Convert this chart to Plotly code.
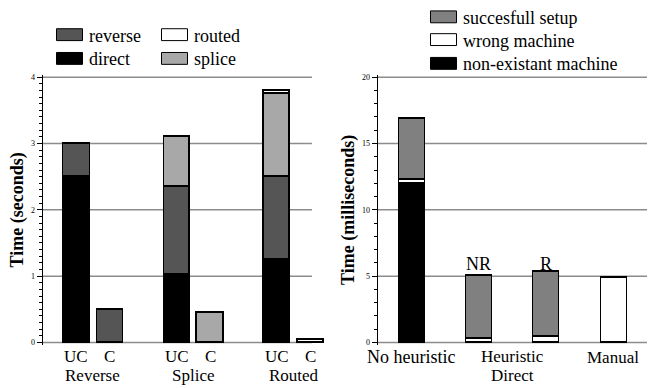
import plotly.graph_objects as go

# ---------------- data ----------------
left_cats = ["Reverse UC", "Reverse C", "Splice UC", "Splice C", "Routed UC", "Routed C"]
left_tick = ["UC", "C", "UC", "C", "UC", "C"]
left_groups = ["Reverse", "Splice", "Routed"]
direct = [2.5, 0, 1.02, 0, 1.25, 0]
reverse = [0.5, 0.5, 1.33, 0, 1.25, 0]
splice = [0, 0, 0.75, 0.45, 1.25, 0]
routed = [0, 0, 0, 0, 0.05, 0.04]

right_cats = ["No heuristic", "NR", "R", "Manual"]
nonexist = [12.0, 0, 0, 0]
wrong = [0.25, 0.3, 0.45, 4.9]
success = [4.65, 4.75, 4.9, 0]

left_ticks = [0, 1, 2, 3, 4]
right_ticks = [0, 5, 10, 15, 20]

# ---------------- layout helpers ----------------
W, H = 656, 388
FONT = "'Liberation Serif', 'Times New Roman', Times, serif"
slots = ["Reverse UC", "Reverse C", "g1", "Splice UC", "Splice C", "g2", "Routed UC", "Routed C"]

def px_x(p):
    return p / W

def px_y(p):
    return (H - p) / H

fig = go.Figure()

lstyle = [("direct", direct, "#000000"), ("reverse", reverse, "#555555"),
          ("splice", splice, "#a8a8a8"), ("routed", routed, "#ffffff")]
for name, vals, col in lstyle:
    fig.add_trace(go.Bar(x=left_cats, y=vals, name=name, marker_color=col,
                         marker_line_color="#000000", marker_line_width=1.2,
                         width=0.78, xaxis="x", yaxis="y", showlegend=False))

rstyle = [("non-existant machine", nonexist, "#000000"), ("wrong machine", wrong, "#ffffff"),
          ("succesfull setup", success, "#808080")]
for name, vals, col in rstyle:
    fig.add_trace(go.Bar(x=right_cats, y=vals, name=name, marker_color=col,
                         marker_line_color="#000000", marker_line_width=1.2,
                         width=0.385, xaxis="x2", yaxis="y2", showlegend=False))

ydom = [px_y(346.7), px_y(73.3)]
axis_common = dict(showline=True, linecolor="black", linewidth=1.2, ticks="outside",
                   ticklen=5, tickcolor="black", tickwidth=1, showgrid=False, zeroline=False,
                   tickfont=dict(family=FONT, size=8, color="black"))

fig.update_layout(
    width=W, height=H, margin=dict(l=0, r=0, t=0, b=0),
    paper_bgcolor="white", plot_bgcolor="white", barmode="stack", bargap=0,
    showlegend=False, hovermode=False,
    xaxis=dict(domain=[px_x(42.7), px_x(325)], type="category", categoryorder="array",
               categoryarray=slots, range=[-1.0, 7.43], showticklabels=False,
               showline=False, showgrid=False, zeroline=False, ticks=""),
    yaxis=dict(domain=ydom, range=[-0.04, 4.04], tickvals=left_ticks, anchor="x",
               minor=dict(dtick=0.1, ticks="outside", ticklen=3, tickcolor="black"),
               title=dict(text="<b>Time (seconds)</b>", font=dict(family=FONT, size=18, color="black"),
                          standoff=2),
               **axis_common),
    xaxis2=dict(domain=[px_x(377.7), px_x(647)], type="category", categoryorder="array",
                categoryarray=right_cats, range=[-0.5, 3.5], showticklabels=False,
                showline=False, showgrid=False, zeroline=False, ticks="", anchor="y2"),
    yaxis2=dict(domain=ydom, range=[-0.2, 20.2], tickvals=right_ticks, anchor="x2",
                minor=dict(dtick=1, ticks="outside", ticklen=3, tickcolor="black"),
                title=dict(text="<b>Time (milliseconds)</b>", font=dict(family=FONT, size=18, color="black"),
                           standoff=2),
                **axis_common),
)

# grid lines (drawn below bars)
for t in left_ticks:
    fig.add_shape(type="line", xref="x", yref="y", x0=-1.0, x1=7.04, y0=t, y1=t,
                  line=dict(color="#8c8c8c", width=1.5), layer="below")
for t in right_ticks:
    fig.add_shape(type="line", xref="x2", yref="y2", x0=-0.5, x1=3.5, y0=t, y1=t,
                  line=dict(color="#8c8c8c", width=1.5), layer="below")

LBL = dict(family=FONT, size=17, color="black")

# left category labels
for c, t in zip(left_cats, left_tick):
    fig.add_annotation(x=c, xref="x", y=px_y(358), yref="paper", text=t, showarrow=False,
                       font=LBL, yanchor="middle", borderpad=0)
for i, g in enumerate(left_groups):
    fig.add_annotation(x=3 * i + 0.5, xref="x", y=0, yref="paper", text=g, showarrow=False,
                       font=LBL, yanchor="bottom", borderpad=0)

# right labels
fig.add_annotation(x=0, xref="x2", y=px_y(359), yref="paper", text="No heuristic", showarrow=False,
                   font=dict(family=FONT, size=18, color="black"), yanchor="middle", borderpad=0)
fig.add_annotation(x=1.5, xref="x2", y=px_y(358), yref="paper", text="Heuristic", showarrow=False,
                   font=LBL, yanchor="middle", borderpad=0)
fig.add_annotation(x=1.5, xref="x2", y=0, yref="paper", text="Direct", showarrow=False,
                   font=LBL, yanchor="bottom", borderpad=0)
fig.add_annotation(x=3, xref="x2", y=px_y(359), yref="paper", text="Manual", showarrow=False,
                   font=LBL, yanchor="middle", borderpad=0)
for c in ["NR", "R"]:
    fig.add_annotation(x=c, xref="x2", y=px_y(265), yref="paper", text=c, showarrow=False,
                       font=dict(family=FONT, size=18, color="black"), yanchor="middle")

# legends (manual)
def legend_item(x0, ycen, color, label):
    fig.add_shape(type="rect", xref="paper", yref="paper", x0=px_x(x0), x1=px_x(x0 + 26),
                  y0=px_y(ycen + 6), y1=px_y(ycen - 6), fillcolor=color,
                  line=dict(color="#000000", width=1))
    fig.add_annotation(x=px_x(x0 + 30), xref="paper", y=px_y(ycen + 1), yref="paper", text=label,
                       showarrow=False, xanchor="left", yanchor="middle",
                       font=dict(family=FONT, size=18, color="black"))

legend_item(56.5, 33, "#555555", "reverse")
legend_item(161.5, 33, "#ffffff", "routed")
legend_item(56.5, 57, "#000000", "direct")
legend_item(161.5, 57, "#a8a8a8", "splice")

legend_item(430.5, 15, "#808080", "succesfull setup")
legend_item(430.5, 38, "#ffffff", "wrong machine")
legend_item(430.5, 62, "#000000", "non-existant machine")

fig.write_html("out.html", config={"displayModeBar": False},
               post_script="document.body.style.margin='0';document.body.style.padding='0';")
